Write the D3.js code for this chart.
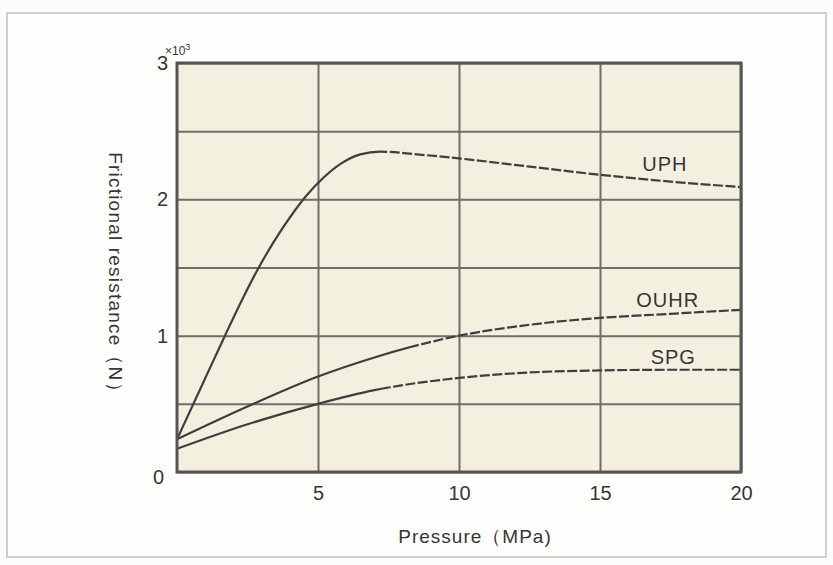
<!DOCTYPE html>
<meta charset="utf-8">
<style>
    body {
        margin: 0;
        background-color: #fcfcfa;
        font-family: "Liberation Sans", Arial, Helvetica, sans-serif;
    }

    #chart {
        width: 833px;
        height: 565px;
        display: block;
    }

    text {
        fill: #363634;
    }
</style>

<body>
    <svg id="chart"></svg>
</body>

<script src="https://d3js.org/d3.v7.min.js"></script>
<script>
    // Data
    var pressureTicks = [5, 10, 15, 20],
        forceGrid = [0, 0.5, 1, 1.5, 2, 2.5, 3],
        forceLabels = [0, 1, 2, 3];

    var uphPressure = [0, 0.85, 1.7, 2.3, 2.9, 3.75, 4.6, 5.2, 5.8, 6.5, 7.2, 8.5, 10, 12.5, 15, 17.5, 20],
        uphForce = [0.24, 0.62, 1.0, 1.26, 1.5, 1.79, 2.03, 2.16, 2.26, 2.33, 2.35, 2.33, 2.3, 2.24, 2.18, 2.13, 2.09];

    var ouhrPressure = [0, 2.5, 5, 7, 10, 12.5, 15, 17.5, 20],
        ouhrForce = [0.24, 0.48, 0.7, 0.84, 1.0, 1.08, 1.13, 1.16, 1.19];

    var spgPressure = [0, 2.5, 5, 7, 10, 12.5, 15, 17.5, 20],
        spgForce = [0.17, 0.35, 0.5, 0.6, 0.69, 0.73, 0.745, 0.75, 0.75];

    var seriesNames = ["UPH", "OUHR", "SPG"],
        dashFrom = [7.2, 8.3, 7.5];   // where the curve turns dashed (MPa)

    // Layout
    var svg = d3.select("#chart"),
        margin = {left: 177, top: 63},
        plotW = 564,
        plotH = 409;

    var x = d3.scaleLinear().domain([0, 20]).range([0, plotW]),
        y = d3.scaleLinear().domain([0, 3]).range([plotH, 0]);

    // light outer frame
    svg.append("rect")
        .attr("x", 7).attr("y", 13)
        .attr("width", 819).attr("height", 544)
        .attr("fill", "#fefefc")
        .attr("stroke", "#cfcfcc")
        .attr("stroke-width", 2);

    var g = svg.append("g").attr("transform", "translate(" + margin.left + "," + margin.top + ")");

    g.append("rect")
        .attr("width", plotW).attr("height", plotH)
        .attr("fill", "#f4f0df");

    // grid + tick labels from axes
    var yAxis = d3.axisLeft(y)
        .tickValues(forceGrid)
        .tickSize(-plotW)
        .tickPadding(9)
        .tickFormat(function (d) {
            return forceLabels.indexOf(d) >= 0 ? d : "";
        });

    var xAxis = d3.axisBottom(x)
        .tickValues(pressureTicks)
        .tickSize(-plotH)
        .tickPadding(14)
        .tickFormat(d3.format("d"));

    var gy = g.append("g").call(yAxis);
    var gx = g.append("g").attr("transform", "translate(0," + plotH + ")").call(xAxis);

    [gx, gy].forEach(function (ax) {
        ax.select(".domain").remove();
        ax.selectAll(".tick line").attr("stroke", "#6e6e6a").attr("stroke-width", 2);
        ax.selectAll(".tick text")
            .attr("font-family", "'Liberation Sans', Arial, sans-serif")
            .attr("font-size", 20)
            .attr("fill", "#363634");
    });

    gy.selectAll(".tick text").filter(function (d) { return d === 0; })
        .attr("dy", "0.55em").attr("x", -13);

    // x10^3 multiplier
    var mult = g.append("text")
        .attr("x", -12).attr("y", -8)
        .attr("font-size", 12);
    mult.append("tspan").text("×10");
    mult.append("tspan").attr("dy", -5).attr("font-size", 9).text("3");

    // clip regions for the solid / dashed parts
    var defs = svg.append("defs");
    var lines = [
        {p: uphPressure, f: uphForce},
        {p: ouhrPressure, f: ouhrForce},
        {p: spgPressure, f: spgForce}
    ];

    var line = d3.line()
        .x(function (d) { return x(d[0]); })
        .y(function (d) { return y(d[1]); })
        .curve(d3.curveMonotoneX);

    lines.forEach(function (s, i) {
        var pts = d3.zip(s.p, s.f);
        defs.append("clipPath").attr("id", "solid" + i)
            .append("rect").attr("x", -5).attr("y", -5)
            .attr("width", x(dashFrom[i]) + 5).attr("height", plotH + 10);
        defs.append("clipPath").attr("id", "dash" + i)
            .append("rect").attr("x", x(dashFrom[i])).attr("y", -5)
            .attr("width", plotW - x(dashFrom[i])).attr("height", plotH + 10);

        g.append("path")
            .datum(pts)
            .attr("d", line)
            .attr("fill", "none")
            .attr("stroke", "#3e3e3c")
            .attr("stroke-width", 2.2)
            .attr("clip-path", "url(#solid" + i + ")");

        g.append("path")
            .datum(pts)
            .attr("d", line)
            .attr("fill", "none")
            .attr("stroke", "#3e3e3c")
            .attr("stroke-width", 2.2)
            .attr("stroke-dasharray", "10,2.5")
            .attr("clip-path", "url(#dash" + i + ")");
    });

    // plot border
    g.append("rect")
        .attr("width", plotW).attr("height", plotH)
        .attr("fill", "none")
        .attr("stroke", "#555552")
        .attr("stroke-width", 3);

    // curve labels
    var labelPos = [[17.3, 2.21], [17.4, 1.21], [17.6, 0.79]];
    seriesNames.forEach(function (name, i) {
        g.append("text")
            .attr("x", x(labelPos[i][0]))
            .attr("y", y(labelPos[i][1]))
            .attr("text-anchor", "middle")
            .attr("font-size", 20)
            .attr("letter-spacing", 1)
            .text(name);
    });

    // axis titles
    svg.append("text")
        .attr("x", 475).attr("y", 543)
        .attr("text-anchor", "middle")
        .attr("font-size", 19)
        .attr("letter-spacing", 1)
        .text("Pressure（MPa)");

    svg.append("text")
        .attr("transform", "translate(109,277) rotate(90)")
        .attr("text-anchor", "middle")
        .attr("font-size", 19)
        .attr("letter-spacing", 1.2)
        .text("Frictional resistance（N）");
</script>
